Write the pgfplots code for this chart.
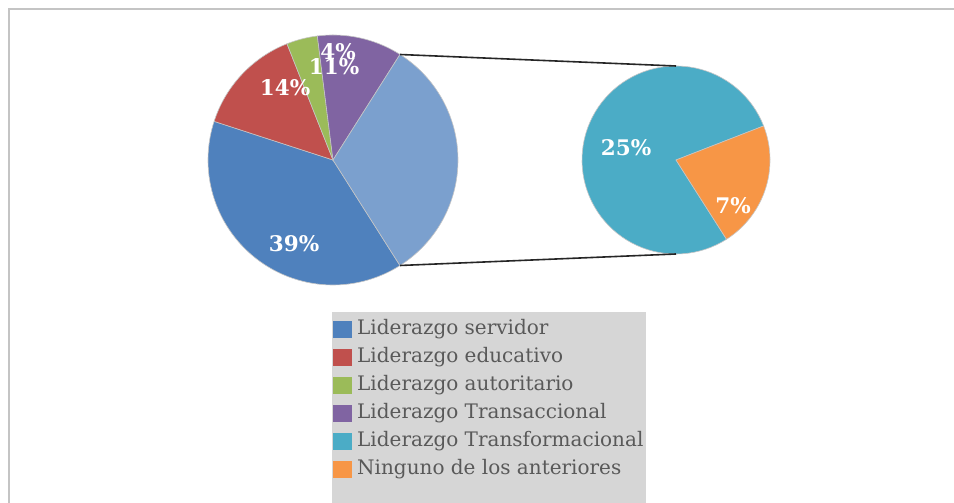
\documentclass[border=0pt]{standalone}
\usepackage{fontspec}
\setmainfont{DejaVu Serif}
\usepackage{pgfplots}
\pgfplotsset{compat=1.18}
\definecolor{cServ}{HTML}{4F81BD}
\definecolor{cEduc}{HTML}{C0504D}
\definecolor{cAuto}{HTML}{9BBB59}
\definecolor{cTsac}{HTML}{8064A2}
\definecolor{cTfor}{HTML}{4BACC6}
\definecolor{cNing}{HTML}{F79646}
\definecolor{cOtro}{HTML}{7BA0CE}
\definecolor{legbg}{HTML}{D6D6D6}
\definecolor{legtx}{HTML}{595959}
\definecolor{frame}{HTML}{C4C4C4}

\begin{document}
\begin{tikzpicture}
\begin{axis}[
width=954pt,height=503pt,scale only axis,
xmin=0,xmax=954,ymin=0,ymax=503,
hide axis,
area legend,
legend image code/.code={\fill[#1,draw=none] (0pt,-8.5pt) rectangle (19pt,8.5pt);},
legend cell align=left,
legend style={at={(axis cs:333,184)},anchor=north west,draw=none,fill=none,
  inner sep=0pt,row sep=8pt,column sep=5pt,
  font=\fontsize{20}{21}\selectfont,text=legtx,
  nodes={inner sep=0pt,text height=15pt,text depth=5pt}},
slice/.style={draw=gray!45,line width=0.6pt,samples=80}]
% frame and legend box
\draw[frame,line width=2pt] (axis cs:9,0) -- (axis cs:9,494) -- (axis cs:954,494);
\fill[legbg] (axis cs:332,0) rectangle (axis cs:646,191);
% main pie: 39, 14, 4, 11, rest 32 (centre 333,343, r 125)
\addplot[slice,fill=cServ,domain=162:302.4] ({333+125*cos(x)},{343+125*sin(x)}) -- (axis cs:333,343) -- cycle;
\addlegendentry{Liderazgo servidor}
\addplot[slice,fill=cEduc,domain=111.6:162] ({333+125*cos(x)},{343+125*sin(x)}) -- (axis cs:333,343) -- cycle;
\addlegendentry{Liderazgo educativo}
\addplot[slice,fill=cAuto,domain=97.2:111.6] ({333+125*cos(x)},{343+125*sin(x)}) -- (axis cs:333,343) -- cycle;
\addlegendentry{Liderazgo autoritario}
\addplot[slice,fill=cTsac,domain=57.6:97.2] ({333+125*cos(x)},{343+125*sin(x)}) -- (axis cs:333,343) -- cycle;
\addlegendentry{Liderazgo Transaccional}
% second pie: 25, 7 (centre 676,343, r 94)
\addplot[slice,fill=cTfor,domain=21.25:302.5] ({676+94*cos(x)},{343+94*sin(x)}) -- (axis cs:676,343) -- cycle;
\addlegendentry{Liderazgo Transformacional}
\addplot[slice,fill=cNing,domain=-57.5:21.25] ({676+94*cos(x)},{343+94*sin(x)}) -- (axis cs:676,343) -- cycle;
\addlegendentry{Ninguno de los anteriores}
\addplot[slice,fill=cOtro,domain=-57.6:57.6,forget plot] ({333+125*cos(x)},{343+125*sin(x)}) -- (axis cs:333,343) -- cycle;
% connector lines
\addplot[black!85,line width=1.6pt,forget plot] coordinates {(400,448.5) (676,437)};
\addplot[black!85,line width=1.6pt,forget plot] coordinates {(400,237.5) (676,249)};
% percentage labels
\begin{scope}[every node/.style={text=white,font=\bfseries\fontsize{21.5}{22}\selectfont,inner sep=0pt}]
\node at (axis cs:294,259) {39\%};
\node at (axis cs:285,415) {14\%};
\node at (axis cs:338,451) {4\%};
\node at (axis cs:334,436) {11\%};
\node at (axis cs:626,355) {25\%};
\node at (axis cs:733,297) {7\%};
\end{scope}
\end{axis}
\path (current axis.south west) rectangle (current axis.north east);
\end{tikzpicture}
\end{document}
